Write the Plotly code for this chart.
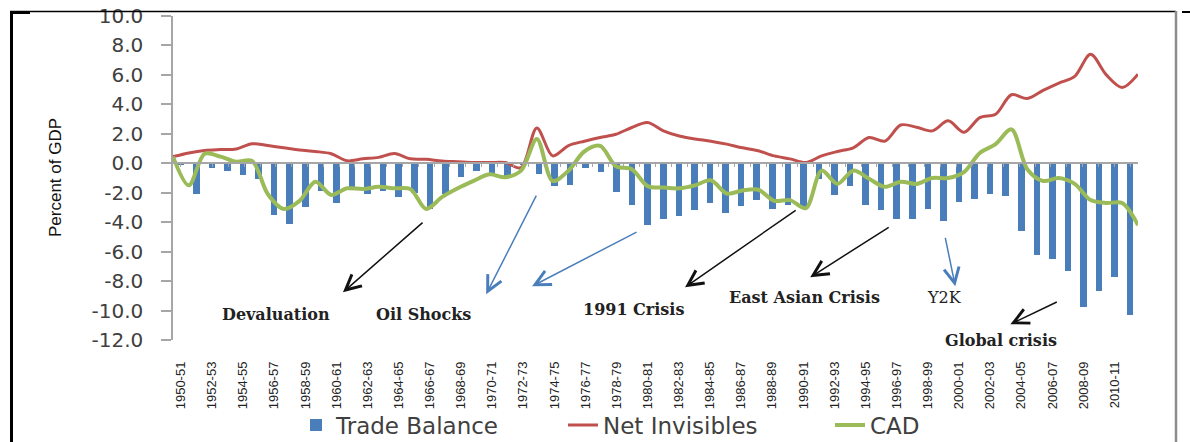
import plotly.graph_objects as go

# Fiscal years 1950-51 .. 2011-12
years = [
    "1950-51", "1951-52", "1952-53", "1953-54", "1954-55", "1955-56", "1956-57", "1957-58",
    "1958-59", "1959-60", "1960-61", "1961-62", "1962-63", "1963-64", "1964-65", "1965-66",
    "1966-67", "1967-68", "1968-69", "1969-70", "1970-71", "1971-72", "1972-73", "1973-74",
    "1974-75", "1975-76", "1976-77", "1977-78", "1978-79", "1979-80", "1980-81", "1981-82",
    "1982-83", "1983-84", "1984-85", "1985-86", "1986-87", "1987-88", "1988-89", "1989-90",
    "1990-91", "1991-92", "1992-93", "1993-94", "1994-95", "1995-96", "1996-97", "1997-98",
    "1998-99", "1999-00", "2000-01", "2001-02", "2002-03", "2003-04", "2004-05", "2005-06",
    "2006-07", "2007-08", "2008-09", "2009-10", "2010-11", "2011-12",
]

# Percent of GDP
trade_balance = [
    -0.1, -2.1, -0.3, -0.5, -0.8, -1.1, -3.5, -4.15, -3.0, -1.85,
    -2.7, -1.8, -2.1, -1.9, -2.3, -2.05, -3.1, -2.1, -0.9, -0.5,
    -0.85, -0.85, -0.1, -0.75, -1.55, -1.45, -0.35, -0.6, -1.95, -2.85,
    -4.2, -3.8, -3.55, -3.15, -2.7, -3.35, -2.9, -2.5, -3.1, -2.8,
    -3.0, -1.05, -2.15, -1.55, -2.8, -3.15, -3.8, -3.75, -3.1, -3.9,
    -2.65, -2.45, -2.1, -2.25, -4.6, -6.2, -6.5, -7.3, -9.75, -8.7,
    -7.7, -10.3,
]
net_invisibles = [
    0.45, 0.7, 0.87, 0.93, 0.97, 1.33, 1.2, 1.05, 0.9, 0.8,
    0.65, 0.17, 0.3, 0.4, 0.66, 0.3, 0.27, 0.15, 0.1, 0.05,
    0.05, 0.05, -0.3, 2.4, 0.5, 1.2, 1.5, 1.75, 1.97, 2.43,
    2.77, 2.2, 1.85, 1.65, 1.5, 1.3, 1.05, 0.85, 0.5, 0.3,
    0.05, 0.5, 0.8, 1.05, 1.75, 1.5, 2.6, 2.45, 2.2, 2.88,
    2.1, 3.1, 3.33, 4.65, 4.4, 4.95, 5.45, 5.9, 7.4, 6.0,
    5.15, 6.05,
]
cad = [
    0.45, -1.5, 0.65, 0.45, 0.1, 0.15, -2.1, -3.1, -2.55, -1.25,
    -2.15, -1.7, -1.75, -1.6, -1.7, -1.75, -3.1, -2.3, -1.7, -1.2,
    -0.75, -0.95, -0.5, 1.65, -1.2, -0.5, 0.8, 1.18, -0.2, -0.4,
    -1.55, -1.65, -1.7, -1.5, -1.15, -2.05, -1.85, -1.8, -2.55, -2.5,
    -3.05, -0.5, -1.4, -0.5, -1.05, -1.6, -1.25, -1.4, -1.0, -1.0,
    -0.6, 0.7, 1.3, 2.3, -0.4, -1.2, -1.0, -1.4, -2.5, -2.7,
    -2.7, -4.2,
]

y_range = [-12, 10]
y_tick_values = [10, 8, 6, 4, 2, 0, -2, -4, -6, -8, -10, -12]
y_tick_labels = ["10.0", "8.0", "6.0", "4.0", "2.0", "0.0",
                 "-2.0", "-4.0", "-6.0", "-8.0", "-10.0", "-12.0"]

# Event call-outs: (label, x index, y, bold)
event_labels = [
    ("Devaluation", 6.1, -10.25, True),
    ("Oil Shocks", 15.6, -10.25, True),
    ("1991 Crisis", 29.1, -9.9, True),
    ("East Asian Crisis", 40.1, -9.1, True),
    ("Y2K", 49.05, -9.1, False),
    ("Global crisis", 52.7, -12.0, True),
]
# Arrows: (tail x, tail y, head x, head y, colour)
event_arrows = [
    (15.63, -3.94, 10.42, -8.76, "#111111"),
    (22.89, -2.10, 19.62, -8.89, "#4a7ebb"),
    (29.38, -4.62, 22.57, -8.35, "#4a7ebb"),
    (39.6, -3.12, 32.4, -8.42, "#111111"),
    (45.58, -4.28, 40.44, -7.74, "#111111"),
    (49.1, -4.96, 49.76, -8.35, "#4a7ebb"),
    (56.38, -9.37, 53.3, -10.93, "#111111"),
]

W, H = 1190, 442
M_L, M_R, M_T, M_B = 173, 52, 16, 102
PW, PH = W - M_L - M_R, H - M_T - M_B


def paper_x(px):
    return (px - M_L) / PW


def paper_y(py):
    return (H - M_B - py) / PH


BLUE = "#4a7ebb"
RED = "#c0504d"
GREEN = "#9bbb59"
AXIS = "#a6a6a6"
TEXT = "#404040"

fig = go.Figure()
fig.add_trace(go.Bar(
    x=years, y=trade_balance, name="Trade Balance",
    marker=dict(color=BLUE, line=dict(width=0)), width=0.42,
    xaxis="x", yaxis="y",
))
fig.add_trace(go.Scatter(
    x=years, y=net_invisibles, name="Net Invisibles", mode="lines",
    line=dict(color=RED, width=3, shape="spline", smoothing=0.9),
    xaxis="x2", yaxis="y",
))
fig.add_trace(go.Scatter(
    x=years, y=cad, name="CAD", mode="lines",
    line=dict(color=GREEN, width=4, shape="spline", smoothing=0.9),
    xaxis="x2", yaxis="y",
))

zero_pos = (0 - y_range[0]) / (y_range[1] - y_range[0])

annotations = []
for tx, ty, hx, hy, col in event_arrows:
    annotations.append(dict(
        x=hx, y=hy, ax=tx, ay=ty, xref="x", yref="y", axref="x", ayref="y",
        text="", showarrow=True, arrowhead=5, arrowsize=2.0, arrowwidth=1.5,
        arrowcolor=col, standoff=0, startstandoff=0,
    ))
for label, lx, ly, bold in event_labels:
    annotations.append(dict(
        x=lx, y=ly, xref="x", yref="y", showarrow=False,
        text=f"<b>{label}</b>" if bold else label,
        font=dict(family="DejaVu Serif", size=16, color="#222222"),
        xanchor="center", yanchor="middle",
    ))
annotations.append(dict(
    x=paper_x(55), y=paper_y(178), xref="paper", yref="paper", showarrow=False,
    text="Percent of GDP", textangle=-90,
    font=dict(family="Liberation Sans", size=17, color="#111111"),
    xanchor="center", yanchor="middle",
))

frame = []
# outer border of the chart area
frame.append(dict(type="line", xref="paper", yref="paper",
                  x0=paper_x(11.5), x1=paper_x(11.5), y0=paper_y(11), y1=paper_y(445),
                  line=dict(color="#000000", width=3)))
frame.append(dict(type="line", xref="paper", yref="paper",
                  x0=paper_x(10), x1=paper_x(1176), y0=paper_y(11.5), y1=paper_y(11.5),
                  line=dict(color="#000000", width=1.5)))
frame.append(dict(type="line", xref="paper", yref="paper",
                  x0=paper_x(10), x1=paper_x(30), y0=paper_y(12.5), y1=paper_y(12.5),
                  line=dict(color="#000000", width=3)))
frame.append(dict(type="line", xref="paper", yref="paper",
                  x0=paper_x(1176), x1=paper_x(1176), y0=paper_y(11), y1=paper_y(445),
                  line=dict(color="#8c8c8c", width=2.5)))
frame.append(dict(type="line", xref="paper", yref="paper",
                  x0=paper_x(1182), x1=paper_x(1190), y0=paper_y(12), y1=paper_y(12),
                  line=dict(color="#000000", width=2)))

fig.update_layout(
    width=W, height=H, autosize=False,
    margin=dict(l=M_L, r=M_R, t=M_T, b=M_B, pad=0, autoexpand=False),
    paper_bgcolor="white", plot_bgcolor="white",
    showlegend=True,
    legend=dict(
        orientation="h", x=paper_x(296), xanchor="left",
        y=paper_y(425), yanchor="middle",
        font=dict(family="DejaVu Sans", size=23, color=TEXT),
        entrywidth=222, entrywidthmode="pixels",
        bgcolor="rgba(0,0,0,0)",
    ),
    xaxis=dict(
        type="category", showline=False, showgrid=False, zeroline=False,
        automargin=False,
        ticks="", tickmode="array", tickvals=years[::2], tickangle=-90,
        ticklabelstandoff=18,
        tickfont=dict(family="Liberation Sans Narrow, Liberation Sans", size=13, color="#222222"),
    ),
    xaxis2=dict(
        type="category", overlaying="x", anchor="free", position=zero_pos, side="bottom",
        showline=True, linecolor=AXIS, linewidth=1.5, showgrid=False, zeroline=False,
        automargin=False,
        ticks="outside", ticklen=3, tickcolor=AXIS, tickwidth=1,
        tickmode="array", tickvals=years, tickson="boundaries", showticklabels=False,
    ),
    yaxis=dict(
        range=y_range, tickmode="array", tickvals=y_tick_values, ticktext=y_tick_labels,
        showline=True, linecolor=AXIS, linewidth=1.5, showgrid=False, zeroline=False,
        automargin=False,
        ticks="outside", ticklen=10, tickcolor=AXIS, tickwidth=1.5,
        ticklabelstandoff=14,
        tickfont=dict(family="DejaVu Sans", size=20, color=TEXT),
    ),
    annotations=annotations,
    shapes=frame,
    bargap=0,
)

fig.write_html("out.html")
